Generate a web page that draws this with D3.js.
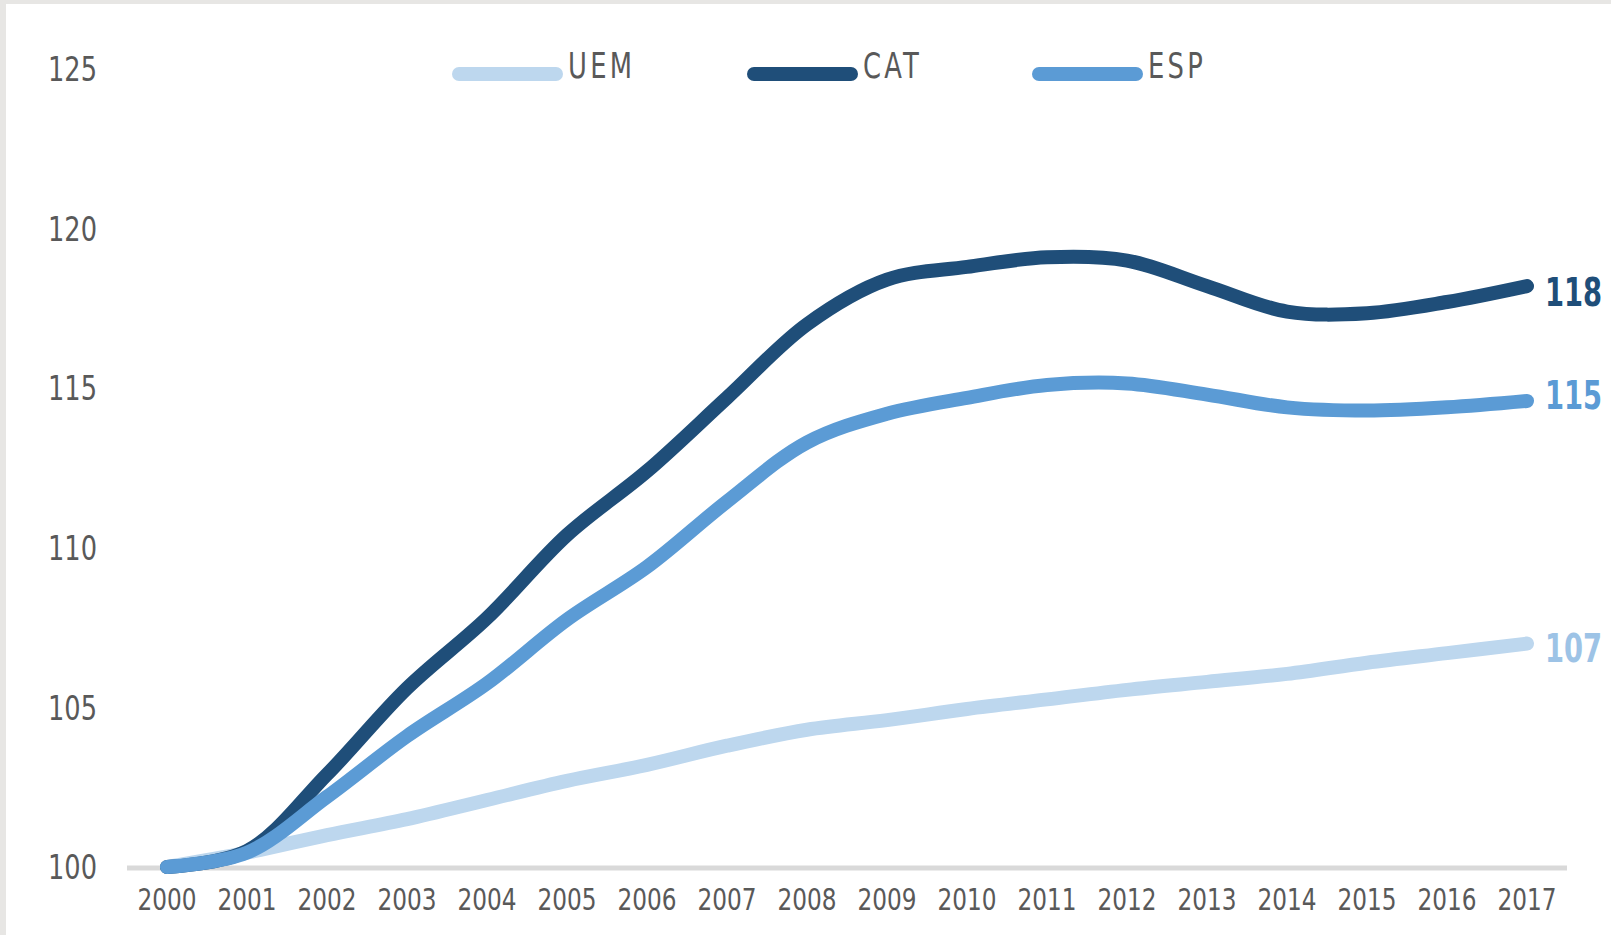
<!DOCTYPE html>
<html>
<head>
<meta charset="utf-8">
<script src="https://cdn.jsdelivr.net/npm/d3@7"></script>
<style>
  html, body { margin: 0; padding: 0; background: #e7e6e4; }
  svg { display: block; }
</style>
</head>
<body>
<script>
// Index 2000 = 100
const years = [2000, 2001, 2002, 2003, 2004, 2005, 2006, 2007, 2008, 2009,
               2010, 2011, 2012, 2013, 2014, 2015, 2016, 2017];
const uem = [100, 100.45, 101.0, 101.5, 102.1, 102.7, 103.2, 103.8, 104.3, 104.6,
             104.95, 105.25, 105.55, 105.8, 106.05, 106.4, 106.7, 107.0];
const cat = [100, 100.5, 102.9, 105.6, 107.8, 110.4, 112.4, 114.7, 117.0, 118.4,
             118.8, 119.1, 119.0, 118.2, 117.4, 117.35, 117.7, 118.2];
const esp = [100, 100.45, 102.2, 104.1, 105.75, 107.75, 109.4, 111.45, 113.3, 114.2,
             114.7, 115.1, 115.15, 114.8, 114.4, 114.3, 114.4, 114.6];
const yTicks = [100, 105, 110, 115, 120, 125];

const seriesNames = ["UEM", "CAT", "ESP"];
const seriesValues = [uem, cat, esp];
const colors = { UEM: "#bdd7ee", CAT: "#1f4e79", ESP: "#5b9bd5" };
const labelColors = { UEM: "#9dc3e6", CAT: "#1f4e79", ESP: "#5b9bd5" };
const labelNudge = { UEM: 4, CAT: 6, ESP: -6 };

const width = 1611, height = 935;
const font = "'Liberation Sans Narrow', 'DejaVu Sans Condensed', 'Roboto', sans-serif";

const svg = d3.select("body").append("svg")
    .attr("width", width)
    .attr("height", height);

// white panel inside the grey frame
svg.append("rect")
    .attr("x", 6).attr("y", 4)
    .attr("width", width - 6).attr("height", height - 4)
    .attr("fill", "#ffffff");

// narrow text helper: squeeze horizontally to mimic a condensed face
function narrowText(parent, tx, ty, sx) {
    return parent.append("g")
        .attr("transform", `translate(${tx},${ty}) scale(${sx},1)`)
        .append("text")
        .style("font-family", font);
}

const x = d3.scaleBand()
    .domain(years)
    .range([127, 1567]);

const y = d3.scaleLinear()
    .domain([100, 125])
    .range([867, 69]);

const xc = d => x(d) + x.bandwidth() / 2;

// y tick labels (no gridlines)
const yAxisG = svg.append("g");
yTicks.forEach(t => {
    narrowText(yAxisG, 97, y(t), 0.84)
        .attr("dy", "0.36em")
        .attr("text-anchor", "end")
        .style("font-size", "34px")
        .style("fill", "#595959")
        .text(t);
});

// x axis line
svg.append("line")
    .attr("x1", x.range()[0]).attr("x2", x.range()[1])
    .attr("y1", y(100) + 1).attr("y2", y(100) + 1)
    .attr("stroke", "#d9d9d9")
    .attr("stroke-width", 5);

// x tick labels
const xAxisG = svg.append("g");
years.forEach(yr => {
    narrowText(xAxisG, xc(yr), 910, 0.86)
        .attr("text-anchor", "middle")
        .style("font-size", "30px")
        .style("fill", "#595959")
        .text(yr);
});

// lines
const line = d3.line()
    .x((d, i) => xc(years[i]))
    .y(d => y(d))
    .curve(d3.curveCatmullRom.alpha(0.5));

seriesNames.forEach((name, k) => {
    svg.append("path")
        .datum(seriesValues[k])
        .attr("d", line)
        .attr("fill", "none")
        .attr("stroke", colors[name])
        .attr("stroke-width", 14)
        .attr("stroke-linecap", "round")
        .attr("stroke-linejoin", "round");
});

// end labels
seriesNames.forEach((name, k) => {
    const vals = seriesValues[k];
    const last = vals[vals.length - 1];
    narrowText(svg, 1545, y(last) + labelNudge[name], 0.78)
        .attr("dy", "0.36em")
        .style("font-size", "39px")
        .style("font-weight", "bold")
        .style("fill", labelColors[name])
        .text(Math.round(last));
});

// legend
const legendX = [459, 754, 1039];
const legend = svg.append("g");
seriesNames.forEach((name, k) => {
    legend.append("line")
        .attr("x1", legendX[k]).attr("x2", legendX[k] + 97)
        .attr("y1", 74).attr("y2", 74)
        .attr("stroke", colors[name])
        .attr("stroke-width", 14)
        .attr("stroke-linecap", "round");
    narrowText(legend, legendX[k] + 109, 78, 0.82)
        .style("font-size", "35px")
        .style("letter-spacing", "4px")
        .style("fill", "#595959")
        .text(name);
});
</script>
</body>
</html>
